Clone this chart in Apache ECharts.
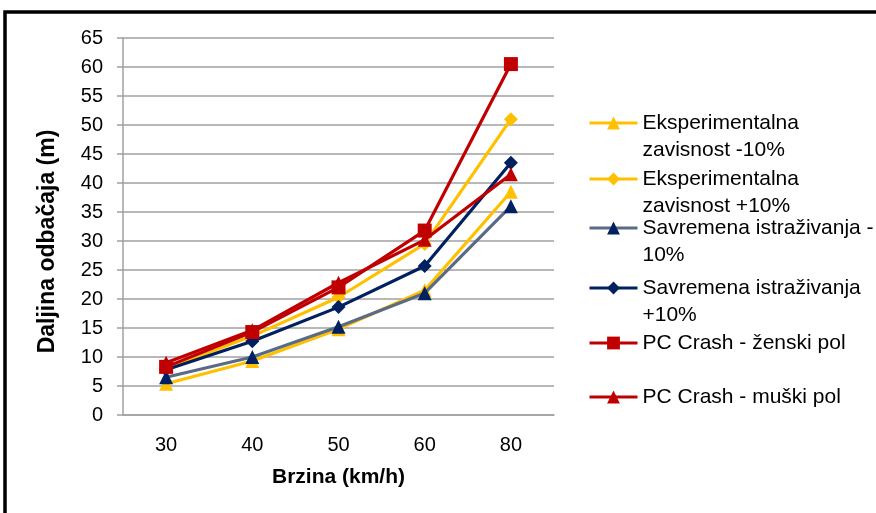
<!DOCTYPE html>
<html>
<head>
<meta charset="utf-8">
<script src="https://cdn.jsdelivr.net/npm/echarts@6/dist/echarts.min.js"></script>
<style>html,body{margin:0;padding:0;background:#fff}#c{width:876px;height:513px}</style>
</head>
<body>
<div id="c"></div>
<script>
const categories = ['30', '40', '50', '60', '80'];
const yTicks = [0, 65, 5];
const seriesNames = [
  'Eksperimentalna zavisnost -10%',
  'Eksperimentalna zavisnost +10%',
  'Savremena istraživanja -10%',
  'Savremena istraživanja +10%',
  'PC Crash - ženski pol',
  'PC Crash - muški pol'
];
const legendLabels = [
  'Eksperimentalna\nzavisnost -10%',
  'Eksperimentalna\nzavisnost +10%',
  'Savremena istraživanja -\n10%',
  'Savremena istraživanja\n+10%',
  'PC Crash - ženski pol',
  'PC Crash - muški pol'
];
const expMinus = [5.4, 9.3, 14.8, 21.5, 38.5];
const expPlus = [8.0, 13.6, 20.3, 29.5, 51.0];
const savMinus = [6.5, 10.0, 15.2, 21.0, 36.0];
const savPlus = [7.8, 12.7, 18.6, 25.7, 43.5];
const pcZenski = [8.3, 14.3, 22.0, 31.8, 60.5];
const pcMuski = [9.0, 14.6, 22.8, 30.2, 41.5];

const values = [expMinus, expPlus, savMinus, savPlus, pcZenski, pcMuski];
const lineColors = ['#FFC000', '#FFC000', '#5A6B85', '#002060', '#C00000', '#C00000'];
const markColors = ['#FFC000', '#FFC000', '#002060', '#002060', '#C00000', '#C00000'];
const symbols = ['triangle', 'diamond', 'triangle', 'diamond', 'rect', 'triangle'];
const symbolSizes = [14, 14, 14, 14, 14, 14];
const legendY = [123, 179, 228, 288, 343, 397];
const twoLine = [true, true, true, true, false, false];

const FONT = '"Liberation Sans", Arial, sans-serif';
const chart = echarts.init(document.getElementById('c'));

const series = values.map((v, i) => ({
  name: seriesNames[i],
  type: 'line',
  data: v,
  symbol: symbols[i],
  symbolSize: symbolSizes[i],
  lineStyle: { color: lineColors[i], width: 3.2 },
  itemStyle: { color: markColors[i] },
  z: 2 + i,
  animation: false
}));

const legends = seriesNames.map((n, i) => ({
  data: [n],
  orient: 'vertical',
  left: 588,
  top: twoLine[i] ? legendY[i] - 40.5 : legendY[i] - 13.5,
  padding: 0,
  itemWidth: 48,
  itemHeight: 16,
  itemGap: 0,
  lineStyle: { width: 3 },
  formatter: () => (twoLine[i] ? '\n' : '') + legendLabels[i],
  textStyle: {
    fontFamily: FONT, fontSize: 21, color: '#000', lineHeight: 27
  }
}));

chart.setOption({
  backgroundColor: '#fff',
  animation: false,
  graphic: [{
    type: 'rect',
    shape: { x: 5, y: 12, width: 900, height: 520 },
    style: { fill: 'none', stroke: '#000', lineWidth: 3.5 },
    silent: true
  }],
  grid: { left: 123, right: 322, top: 38, bottom: 98 },
  legend: legends,
  xAxis: {
    type: 'category',
    data: categories,
    boundaryGap: true,
    name: 'Brzina (km/h)',
    nameLocation: 'middle',
    nameGap: 52,
    nameTextStyle: { fontFamily: FONT, fontSize: 21, fontWeight: 'bold', color: '#000' },
    axisLine: { lineStyle: { color: '#A0A0A0', width: 1.5 } },
    axisTick: { show: false },
    axisLabel: { fontFamily: FONT, fontSize: 20, color: '#000', margin: 20 }
  },
  yAxis: {
    type: 'value',
    min: yTicks[0], max: yTicks[1], interval: yTicks[2],
    name: 'Daljina odbačaja (m)',
    nameLocation: 'middle',
    nameGap: 64,
    nameTextStyle: { fontFamily: FONT, fontSize: 23, fontWeight: 'bold', color: '#000', padding: [0, 30, 0, 0] },
    axisLine: { show: true, lineStyle: { color: '#A0A0A0', width: 1.5 } },
    axisTick: { show: true, length: 6, lineStyle: { color: '#A0A0A0', width: 1.5 } },
    axisLabel: { fontFamily: FONT, fontSize: 20, color: '#000', margin: 20 },
    splitLine: { lineStyle: { color: '#A0A0A0', width: 1.5 } }
  },
  series: series
});
</script>
</body>
</html>
